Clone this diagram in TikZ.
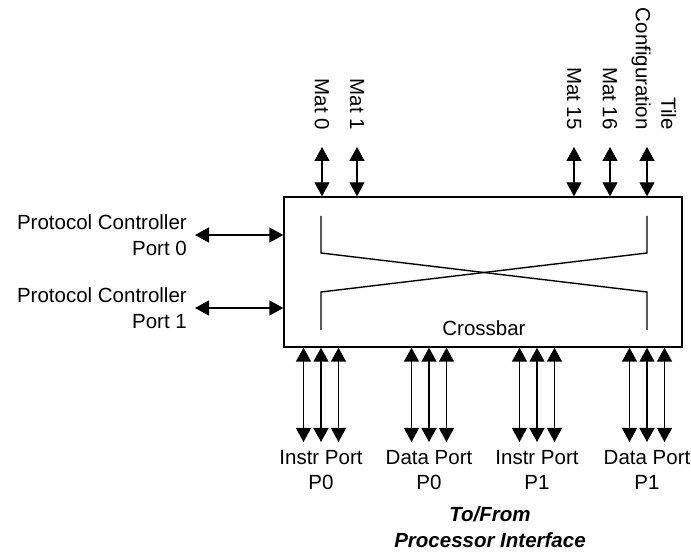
\documentclass[tikz,border=0pt]{standalone}
\usepackage{fontspec}
\setmainfont{Liberation Sans}
\usetikzlibrary{arrows.meta}

\tikzset{
  port/.style={<->, >={Triangle[length=14pt,width=15pt]}, line width=1.4pt},
  lbl/.style={font=\fontsize{20.5}{25.5}\selectfont, inner sep=0pt},
}

\begin{document}
\begin{tikzpicture}[x=1pt,y=1pt]
  \useasboundingbox (0,0) rectangle (691,552);
  % crossbar block
  \node[draw, line width=1.4pt, minimum width=398pt, minimum height=150pt, inner sep=0pt] (xbar) at (483,280) {};
  \node[lbl] (xlbl) at (484,224) {Crossbar};
  \draw[line width=1.4pt] (321,336) -- (321,299) -- (647,260) -- (647,222);
  \draw[line width=1.4pt] (647,336) -- (647,299) -- (321,260) -- (321,222);
  % mat ports on top
  \coordinate (mt0) at (322,405);
  \coordinate (mt1) at (357,405);
  \coordinate (mt15) at (574,405);
  \coordinate (mt16) at (610,405);
  \coordinate (tcfg) at (647,405);
  \node[lbl, rotate=-90, anchor=east] (lmt0) at ([yshift=17pt]mt0) {Mat 0};
  \node[lbl, rotate=-90, anchor=east] (lmt1) at ([yshift=17pt]mt1) {Mat 1};
  \node[lbl, rotate=-90, anchor=east] (lmt15) at ([yshift=17pt]mt15) {Mat 15};
  \node[lbl, rotate=-90, anchor=east] (lmt16) at ([yshift=17pt]mt16) {Mat 16};
  \node[lbl, rotate=-90, anchor=east, align=right] (ltcfg) at ([xshift=7pt,yshift=17pt]tcfg) {Tile\\Configuration};
  \foreach \p in {mt0,mt1,mt15,mt16,tcfg}
    \draw[port] (\p) -- (\p |- xbar.north);
  % protocol controller ports
  \node[lbl, anchor=east, align=right, inner xsep=8pt] (pc0) at (195,317) {Protocol Controller\\Port 0};
  \node[lbl, anchor=east, align=right, inner xsep=8pt] (pc1) at (195,244) {Protocol Controller\\Port 1};
  \draw[port] (pc0.east) -- (pc0.east -| xbar.west);
  \draw[port] (pc1.east) -- (pc1.east -| xbar.west);
  % processor ports below
  \node[lbl, anchor=north, align=center, inner ysep=8pt] (ip0) at (321,110) {Instr Port\\P0};
  \node[lbl, anchor=north, align=center, inner ysep=8pt] (dp0) at (429,110) {Data Port\\P0};
  \node[lbl, anchor=north, align=center, inner ysep=8pt] (ip1) at (537,110) {Instr Port\\P1};
  \node[lbl, anchor=north, align=center, inner ysep=8pt] (dp1) at (647,110) {Data Port\\P1};
  \foreach \p in {ip0,dp0,ip1,dp1}
    \foreach \dx in {-17.5,0,17.5}
      \draw[port] ([xshift=\dx pt]\p.north) -- ([xshift=\dx pt]\p.north |- xbar.south);
  \node[lbl, align=center, font=\fontsize{20.5}{25.5}\selectfont\bfseries\itshape] (proc) at (490,25) {To/From\\Processor Interface};
\end{tikzpicture}
\end{document}
